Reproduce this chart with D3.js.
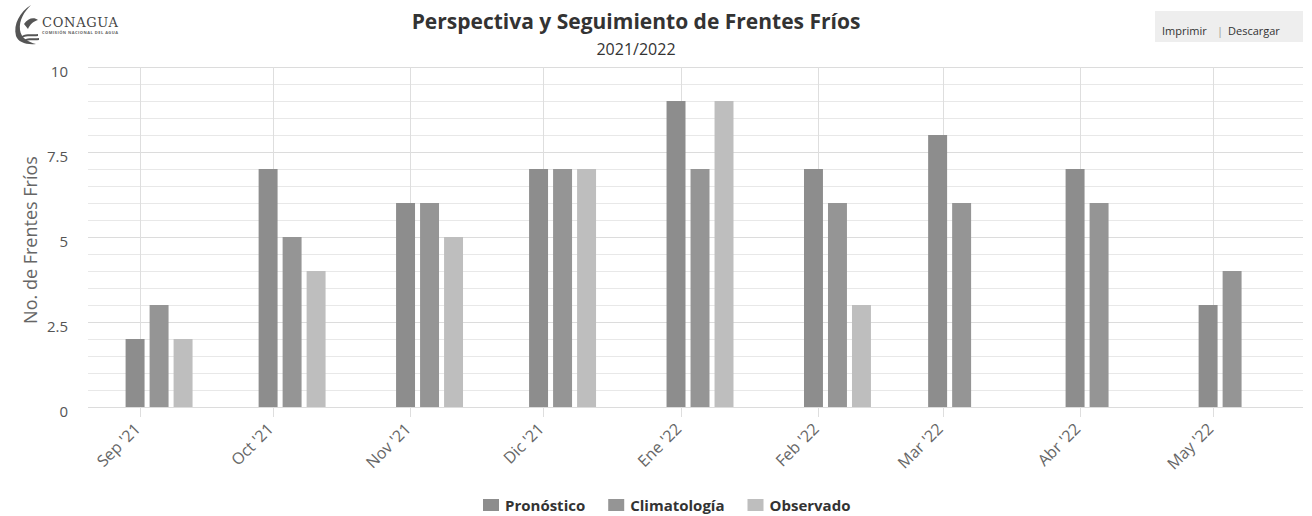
<!DOCTYPE html>
<html>
<head>
<meta charset="utf-8">
<script src="https://cdn.jsdelivr.net/npm/d3@7/dist/d3.min.js"></script>
<style>
  html, body { margin: 0; padding: 0; background: #fff; }
  svg { display: block; font-family: "Open Sans", "Noto Sans", sans-serif; }
</style>
</head>
<body>
<svg id="chart" width="1312" height="516"></svg>
<script>
// ---- data ----
const months = ["2021-09", "2021-10", "2021-11", "2021-12", "2022-01", "2022-02", "2022-03", "2022-04", "2022-05"];
const monthLabels = ["Sep '21", "Oct '21", "Nov '21", "Dic '21", "Ene '22", "Feb '22", "Mar '22", "Abr '22", "May '22"];
const seriesNames = ["Pronóstico", "Climatología", "Observado"];
const pronostico   = [2, 7, 6, 7, 9, 7, 8, 7, 3];
const climatologia = [3, 5, 6, 7, 7, 6, 6, 6, 4];
const observado    = [2, 4, 5, 7, 9, 3, null, null, null];
const yTicks = [0, 2.5, 5, 7.5, 10];
const seriesColors = ["#8d8d8d", "#959595", "#bebebe"];

const title = "Perspectiva y Seguimiento de Frentes Fríos";
const subtitle = "2021/2022";
const yTitle = "No. de Frentes Fríos";

// ---- layout ----
const plot = { left: 88, right: 1303, top: 67, bottom: 407 };
const svg = d3.select("#chart");

const parseMonth = d3.utcParse("%Y-%m");
const monthStarts = months.map(parseMonth);
// points sit a few days after the month start (as in the source chart)
const pointDates = monthStarts.map(d => new Date(d.getTime() + 4.3 * 864e5));

const x = d3.scaleUtc()
  .domain([new Date(Date.UTC(2021, 7, 20, 6, 30)), new Date(Date.UTC(2022, 4, 21, 7))])
  .range([plot.left, plot.right]);
const y = d3.scaleLinear().domain([0, 10]).range([plot.bottom, plot.top]);
const inner = d3.scaleBand().domain(seriesNames).range([-36, 36]).paddingInner(0.21).paddingOuter(0.105);

// ---- gridlines ----
const grid = svg.append("g");
grid.selectAll("line.h")
  .data(d3.range(0, 10.01, 0.5))
  .join("line")
  .attr("x1", plot.left).attr("x2", plot.right)
  .attr("y1", d => Math.round(y(d)) + 0.5).attr("y2", d => Math.round(y(d)) + 0.5)
  .attr("stroke", d => (d % 2.5 === 0 ? "#dcdcdc" : "#e8e8e8"))
  .attr("stroke-width", 1);
grid.selectAll("line.v")
  .data(monthStarts)
  .join("line")
  .attr("x1", d => Math.round(x(d)) + 0.5).attr("x2", d => Math.round(x(d)) + 0.5)
  .attr("y1", plot.top).attr("y2", plot.bottom + 10)
  .attr("stroke", "#dedede");

// ---- bars ----
const table = seriesNames.map((name, si) => ({
  name, color: seriesColors[si],
  values: [pronostico, climatologia, observado][si]
}));
const barsG = svg.append("g");
table.forEach(s => {
  barsG.append("g").selectAll("rect")
    .data(s.values.map((v, i) => ({ v, date: pointDates[i] })).filter(d => d.v != null))
    .join("rect")
    .attr("x", d => x(d.date) + inner(s.name))
    .attr("width", inner.bandwidth())
    .attr("y", d => y(d.v))
    .attr("height", d => y(0) - y(d.v))
    .attr("fill", s.color);
});

// ---- y axis labels ----
const yAxis = d3.axisLeft(y).tickValues(yTicks).tickSize(0).tickPadding(0)
  .tickFormat(d => d3.format("~g")(d));
const yg = svg.append("g").attr("transform", `translate(${plot.left - 20},0)`).call(yAxis);
yg.select(".domain").remove();
yg.selectAll("text")
  .attr("font-family", "'Open Sans', sans-serif")
  .attr("font-size", 15)
  .attr("fill", "#555")
  .attr("dy", "0.6em");

svg.append("text")
  .attr("transform", `translate(37, ${(plot.top + plot.bottom) / 2 + 3}) rotate(-90)`)
  .attr("text-anchor", "middle")
  .attr("font-size", 18)
  .attr("fill", "#666")
  .text(yTitle);

// ---- x axis labels ----
const xAxis = d3.axisBottom(x).tickValues(monthStarts).tickSize(0)
  .tickFormat((d, i) => monthLabels[i]);
const xg = svg.append("g").attr("transform", `translate(0, ${plot.bottom})`).call(xAxis);
xg.select(".domain").remove();
xg.selectAll(".tick text")
  .attr("font-family", "'Open Sans', sans-serif")
  .attr("font-size", 16)
  .attr("fill", "#666")
  .attr("text-anchor", "end")
  .attr("dy", null)
  .attr("y", 0)
  .attr("transform", "translate(1, 23) rotate(-45)");

// ---- title ----
svg.append("text")
  .attr("x", 636).attr("y", 29)
  .attr("text-anchor", "middle")
  .attr("font-size", 21).attr("font-weight", "bold")
  .attr("fill", "#333")
  .text(title);
svg.append("text")
  .attr("x", 636).attr("y", 55)
  .attr("text-anchor", "middle")
  .attr("font-size", 16)
  .attr("fill", "#333")
  .text(subtitle);

// ---- legend ----
const legend = svg.append("g").attr("transform", "translate(483, 505)");
let lx = 0;
table.forEach(s => {
  const g = legend.append("g").attr("transform", `translate(${lx},0)`);
  g.append("rect").attr("x", 0).attr("y", -6).attr("width", 16).attr("height", 12).attr("fill", s.color);
  const t = g.append("text").attr("x", 22).attr("y", 5.5)
    .attr("font-size", 15).attr("font-weight", "bold").attr("fill", "#333")
    .text(s.name);
  lx += 22 + t.node().getComputedTextLength() + 23;
});

// ---- export buttons ----
const btn = svg.append("g");
btn.append("rect").attr("x", 1155).attr("y", 11).attr("width", 148).attr("height", 31).attr("fill", "#eeeeee");
btn.append("text").attr("x", 1162).attr("y", 35).attr("font-size", 11).attr("fill", "#333").text("Imprimir");
btn.append("text").attr("x", 1217).attr("y", 35).attr("font-size", 11).attr("fill", "#999").text("|");
btn.append("text").attr("x", 1228).attr("y", 35).attr("font-size", 11).attr("fill", "#333").text("Descargar");

// ---- logo ----
const logo = svg.append("g").attr("fill", "#555");
logo.append("path").attr("d", "M31,5 C20,12 13,24 16,36 C18,42 26,45 36,44 C28,42 21,38 20,30 C19,20 24,12 31,5 Z");
logo.append("path").attr("d", "M24,24 C28,18 34,17 38,20 C34,21 30,24 28,29 Z");
logo.append("path").attr("d", "M22,36 C27,33 33,35 38,34 L38,36 C33,37 27,35 22,38 Z");
logo.append("path").attr("d", "M24,40 C29,37 34,39 39,38 L39,40 C34,41 29,39 24,42 Z");
svg.append("text").attr("x", 42).attr("y", 27)
  .attr("font-family", "'DejaVu Serif', 'Liberation Serif', serif")
  .attr("font-size", 13).attr("fill", "#444").attr("textLength", 76)
  .text("CONAGUA");
svg.append("text").attr("x", 42).attr("y", 34)
  .attr("font-size", 4).attr("font-weight", "bold").attr("fill", "#666").attr("textLength", 76)
  .text("COMISIÓN NACIONAL DEL AGUA");
</script>
</body>
</html>
